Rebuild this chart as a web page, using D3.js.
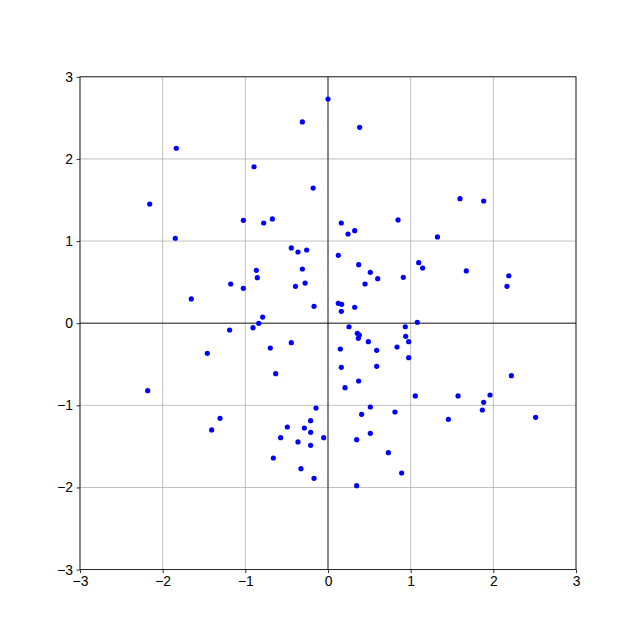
<!DOCTYPE html>
<html>
<head>
<meta charset="utf-8">
<script src="https://cdn.jsdelivr.net/npm/d3@7"></script>
<style>
  body { margin: 0; background: #fff; }
  svg { display: block; }
</style>
</head>
<body>
<div id="chart"></div>
<script>
// point coordinates
const xValues = [
    0.00, -0.31, -1.835, -0.895, -0.18, -2.157, -1.024, -0.778, -0.673, -1.847,
    -0.444, -0.363, -0.258, -0.867, -0.855, -0.31, -1.177, -1.024, -0.393, -0.277,
    -1.654, -0.169, -0.79,
    0.383, 1.597, 1.883, 0.161, 0.847, 0.242, 0.323, 1.324, 0.125, 0.371,
    1.097, 1.145, 0.512, 0.601, 0.911, 1.673, 0.448, 2.187, 2.165, 0.125,
    0.165, 0.323, 0.161, 0.254, 0.935, 1.08,
    0.355, 0.379, 0.367, 0.488, 0.94, 0.976, 0.149, 0.589, 0.835, 0.976,
    0.161, 0.589, 0.371, 0.206, 2.218, 1.056, 1.573, 1.96, 1.883, 1.867,
    0.512, 0.407, 0.81, 1.456, 2.512, 0.512, 0.347, 0.730, 0.891, 0.347,
    -0.838, -0.907, -1.19, -0.444, -0.698, -1.46, -0.633, -2.181, -0.145, -1.306,
    -0.21, -1.407, -0.492, -0.286, -0.21, -0.052, -0.573, -0.363, -0.21, -0.661,
    -0.327, -0.169
];
const yValues = [
    2.73, 2.45, 2.13, 1.905, 1.645, 1.45, 1.253, 1.22, 1.27, 1.034,
    0.916, 0.867, 0.891, 0.644, 0.554, 0.66, 0.477, 0.425, 0.449, 0.489,
    0.295, 0.206, 0.075,
    2.385, 1.516, 1.488, 1.22, 1.257, 1.086, 1.126, 1.05, 0.826, 0.712,
    0.737, 0.672, 0.619, 0.542, 0.559, 0.636, 0.477, 0.578, 0.449, 0.242,
    0.23, 0.194, 0.145, -0.043, -0.043, 0.011,
    -0.123, -0.144, -0.184, -0.225, -0.16, -0.225, -0.314, -0.33, -0.29, -0.42,
    -0.537, -0.525, -0.704, -0.785, -0.639, -0.886, -0.886, -0.874, -0.963, -1.057,
    -1.02, -1.11, -1.081, -1.17, -1.146, -1.341, -1.418, -1.576, -1.824, -1.978,
    -0.001, -0.055, -0.083, -0.237, -0.302, -0.367, -0.615, -0.822, -1.033, -1.158,
    -1.187, -1.30, -1.264, -1.276, -1.329, -1.394, -1.394, -1.446, -1.487, -1.641,
    -1.771, -1.889
];
const tickValues = [-3, -2, -1, 0, 1, 2, 3];

const points = xValues.map((x, i) => ({ x: x, y: yValues[i] }));

const width = 640, height = 640;
const margin = { top: 76.8, right: 64, bottom: 70.4, left: 80 };
const innerW = width - margin.left - margin.right;
const innerH = height - margin.top - margin.bottom;

const svg = d3.select("#chart")
    .append("svg")
    .attr("width", width)
    .attr("height", height)
    .style("font-family", "'DejaVu Sans', sans-serif");

const g = svg.append("g")
    .attr("transform", `translate(${margin.left},${margin.top})`);

const xScale = d3.scaleLinear().domain([-3, 3]).range([0, innerW]);
const yScale = d3.scaleLinear().domain([-3, 3]).range([innerH, 0]);

const fmt = d => d < 0 ? "\u2212" + Math.abs(d) : String(d);

// grid
g.append("g")
    .selectAll("line")
    .data(tickValues)
    .join("line")
    .attr("x1", d => xScale(d)).attr("x2", d => xScale(d))
    .attr("y1", 0).attr("y2", innerH)
    .attr("stroke", "#b0b0b0").attr("stroke-width", 0.8);
g.append("g")
    .selectAll("line")
    .data(tickValues)
    .join("line")
    .attr("y1", d => yScale(d)).attr("y2", d => yScale(d))
    .attr("x1", 0).attr("x2", innerW)
    .attr("stroke", "#b0b0b0").attr("stroke-width", 0.8);

// zero lines
g.append("line")
    .attr("x1", 0).attr("x2", innerW)
    .attr("y1", yScale(0)).attr("y2", yScale(0))
    .attr("stroke", "black").attr("stroke-width", 0.8);
g.append("line")
    .attr("x1", xScale(0)).attr("x2", xScale(0))
    .attr("y1", 0).attr("y2", innerH)
    .attr("stroke", "black").attr("stroke-width", 0.8);

// points
g.append("g")
    .selectAll("circle")
    .data(points)
    .join("circle")
    .attr("cx", d => xScale(d.x))
    .attr("cy", d => yScale(d.y))
    .attr("r", 2.6)
    .attr("fill", "#0000ff");

// axes
const xAxis = d3.axisBottom(xScale).tickValues(tickValues).tickFormat(fmt)
    .tickSizeOuter(0).tickSizeInner(3.5).tickPadding(3.5);
const yAxis = d3.axisLeft(yScale).tickValues(tickValues).tickFormat(fmt)
    .tickSizeOuter(0).tickSizeInner(3.5).tickPadding(3.5);

const gx = g.append("g").attr("transform", `translate(0,${innerH})`).call(xAxis);
const gy = g.append("g").call(yAxis);
[gx, gy].forEach(a => {
    a.select(".domain").remove();
    a.selectAll(".tick line").attr("stroke", "black").attr("stroke-width", 0.8);
    a.selectAll(".tick text").attr("fill", "black").style("font-size", "13.9px");
});

// frame
g.append("rect")
    .attr("width", innerW).attr("height", innerH)
    .attr("fill", "none").attr("stroke", "black").attr("stroke-width", 0.8);
</script>
</body>
</html>
